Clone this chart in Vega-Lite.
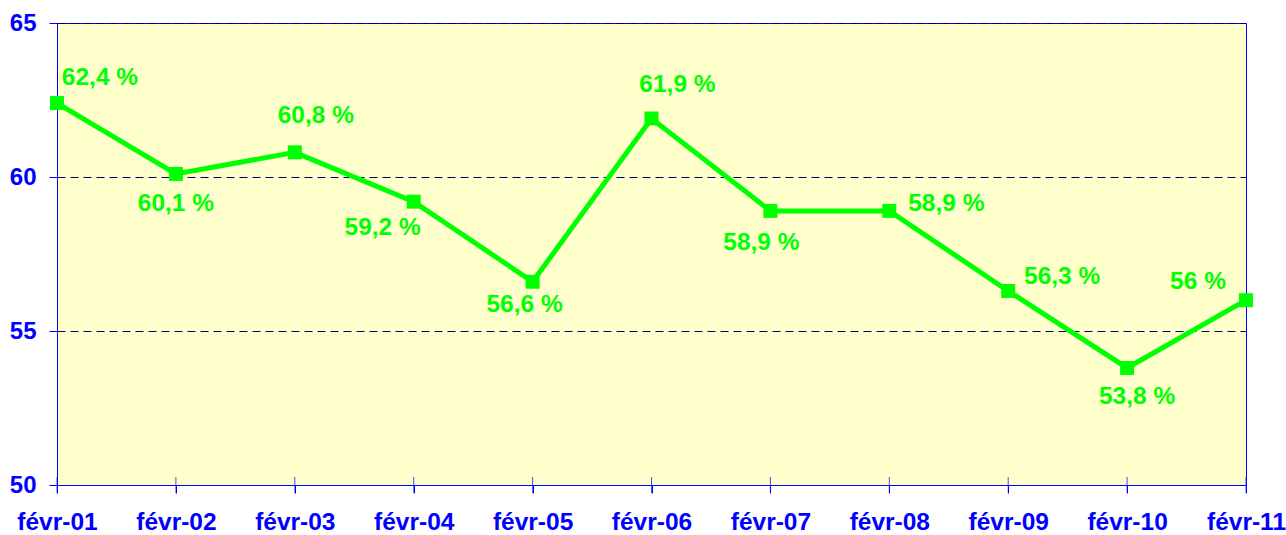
{
  "$schema": "https://vega.github.io/schema/vega-lite/v6.json",
  "autosize": "none",
  "width": 1189,
  "height": 462,
  "padding": {"left": 57, "top": 23, "right": 40, "bottom": 50},
  "background": "#FFFFFF",
  "config": {
    "view": {"fill": "#FFFFCC", "stroke": "#0000FF", "strokeWidth": 1},
    "font": "Liberation Sans"
  },
  "data": {
    "values": [
      {"month": "févr-01", "value": 62.4, "label": "62,4 %"},
      {"month": "févr-02", "value": 60.1, "label": "60,1 %"},
      {"month": "févr-03", "value": 60.8, "label": "60,8 %"},
      {"month": "févr-04", "value": 59.2, "label": "59,2 %"},
      {"month": "févr-05", "value": 56.6, "label": "56,6 %"},
      {"month": "févr-06", "value": 61.9, "label": "61,9 %"},
      {"month": "févr-07", "value": 58.9, "label": "58,9 %"},
      {"month": "févr-08", "value": 58.9, "label": "58,9 %"},
      {"month": "févr-09", "value": 56.3, "label": "56,3 %"},
      {"month": "févr-10", "value": 53.8, "label": "53,8 %"},
      {"month": "févr-11", "value": 56.0, "label": "56 %"}
    ]
  },
  "encoding": {
    "x": {
      "field": "month", "type": "ordinal", "sort": null,
      "scale": {"type": "point", "padding": 0},
      "axis": {
        "title": null, "labelAngle": 0, "domainColor": "#0000FF", "tickColor": "#0000FF",
        "tickSize": 8, "labelPadding": 17, "labelColor": "#0000FF", "labelFont": "Liberation Sans",
        "labelFontWeight": "bold", "labelFontSize": 24.5, "grid": false, "labelBaseline": "top"
      }
    },
    "y": {
      "field": "value", "type": "quantitative",
      "scale": {"domain": [50, 65], "zero": false, "nice": false},
      "axis": {
        "title": null, "values": [50, 55, 60, 65], "domainColor": "#0000FF", "tickColor": "#0000FF",
        "tickSize": 8, "labelPadding": 13, "labelColor": "#0000FF", "labelFont": "Liberation Sans",
        "labelFontWeight": "bold", "labelFontSize": 24, "grid": true, "gridColor": "#000060",
        "gridDash": [8, 5], "gridWidth": 1, "labelBaseline": "middle"
      }
    }
  },
  "layer": [
    {
      "mark": {"type": "tick", "orient": "vertical", "size": 16, "thickness": 1, "color": "#0000FF"},
      "encoding": {"y": {"datum": 50}}
    },
    {"mark": {"type": "line", "color": "#00FF00", "strokeWidth": 5}},
    {"mark": {"type": "point", "shape": "square", "filled": true, "size": 196, "color": "#00FF00", "opacity": 1}},
    {"transform": [{"filter": {"field": "month", "equal": "févr-01"}}], "mark": {"type": "text", "dx": 43, "dy": -25, "fontSize": 24.5, "fontWeight": "bold", "color": "#00FF00", "baseline": "middle"}, "encoding": {"text": {"field": "label"}}},
    {"transform": [{"filter": {"field": "month", "equal": "févr-02"}}], "mark": {"type": "text", "dx": 0, "dy": 30, "fontSize": 24.5, "fontWeight": "bold", "color": "#00FF00", "baseline": "middle"}, "encoding": {"text": {"field": "label"}}},
    {"transform": [{"filter": {"field": "month", "equal": "févr-03"}}], "mark": {"type": "text", "dx": 21, "dy": -36, "fontSize": 24.5, "fontWeight": "bold", "color": "#00FF00", "baseline": "middle"}, "encoding": {"text": {"field": "label"}}},
    {"transform": [{"filter": {"field": "month", "equal": "févr-04"}}], "mark": {"type": "text", "dx": -31, "dy": 26, "fontSize": 24.5, "fontWeight": "bold", "color": "#00FF00", "baseline": "middle"}, "encoding": {"text": {"field": "label"}}},
    {"transform": [{"filter": {"field": "month", "equal": "févr-05"}}], "mark": {"type": "text", "dx": -8, "dy": 23, "fontSize": 24.5, "fontWeight": "bold", "color": "#00FF00", "baseline": "middle"}, "encoding": {"text": {"field": "label"}}},
    {"transform": [{"filter": {"field": "month", "equal": "févr-06"}}], "mark": {"type": "text", "dx": 26, "dy": -33, "fontSize": 24.5, "fontWeight": "bold", "color": "#00FF00", "baseline": "middle"}, "encoding": {"text": {"field": "label"}}},
    {"transform": [{"filter": {"field": "month", "equal": "févr-07"}}], "mark": {"type": "text", "dx": -9, "dy": 32, "fontSize": 24.5, "fontWeight": "bold", "color": "#00FF00", "baseline": "middle"}, "encoding": {"text": {"field": "label"}}},
    {"transform": [{"filter": {"field": "month", "equal": "févr-08"}}], "mark": {"type": "text", "dx": 57, "dy": -7, "fontSize": 24.5, "fontWeight": "bold", "color": "#00FF00", "baseline": "middle"}, "encoding": {"text": {"field": "label"}}},
    {"transform": [{"filter": {"field": "month", "equal": "févr-09"}}], "mark": {"type": "text", "dx": 54, "dy": -14, "fontSize": 24.5, "fontWeight": "bold", "color": "#00FF00", "baseline": "middle"}, "encoding": {"text": {"field": "label"}}},
    {"transform": [{"filter": {"field": "month", "equal": "févr-10"}}], "mark": {"type": "text", "dx": 10, "dy": 29, "fontSize": 24.5, "fontWeight": "bold", "color": "#00FF00", "baseline": "middle"}, "encoding": {"text": {"field": "label"}}},
    {"transform": [{"filter": {"field": "month", "equal": "févr-11"}}], "mark": {"type": "text", "dx": -48, "dy": -18, "fontSize": 24.5, "fontWeight": "bold", "color": "#00FF00", "baseline": "middle"}, "encoding": {"text": {"field": "label"}}}
  ]
}
